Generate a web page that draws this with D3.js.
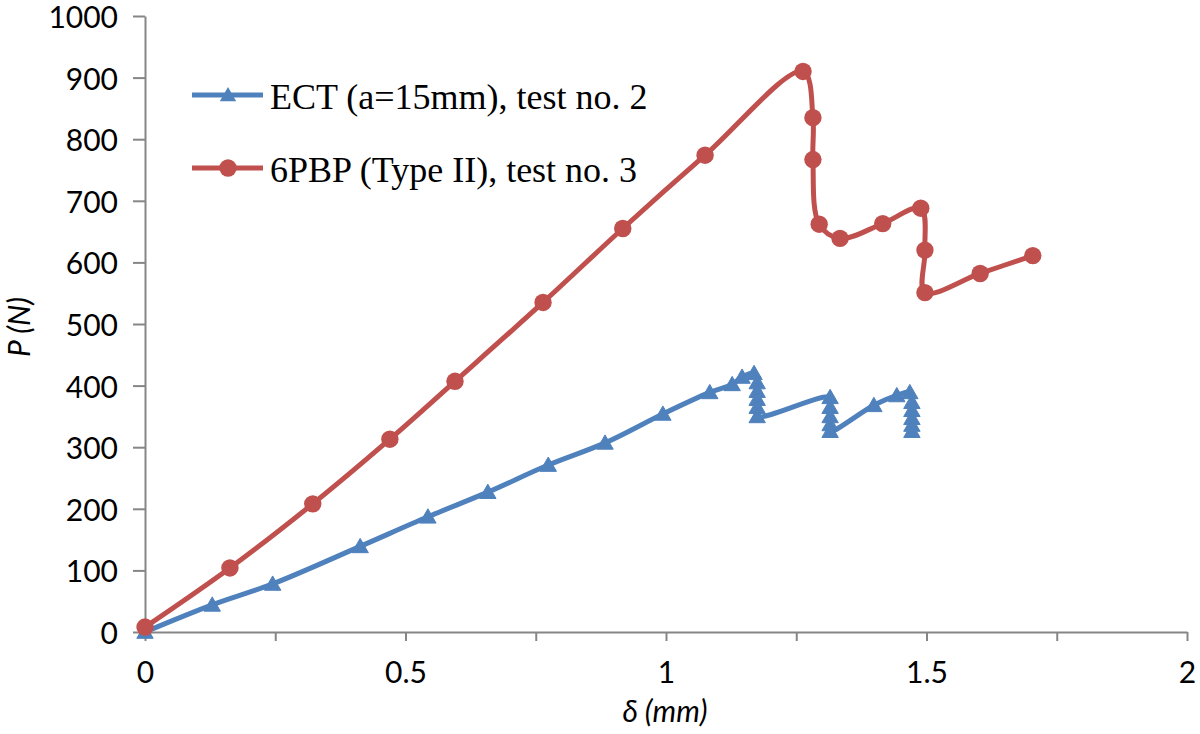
<!DOCTYPE html>
<html>
<head>
<meta charset="utf-8">
<script src="https://cdn.jsdelivr.net/npm/d3@7/dist/d3.min.js"></script>
<style>
  html, body { margin: 0; padding: 0; background: #fff; }
  svg { display: block; }
</style>
</head>
<body>
<svg id="chart" width="1200" height="734"></svg>
<script>
// ---- data ----
const ectDelta = [0, 0.129, 0.245, 0.413, 0.543, 0.658, 0.774, 0.883, 0.994, 1.084, 1.127, 1.146, 1.169,
  1.175, 1.175, 1.175, 1.175, 1.175, 1.315, 1.315, 1.315, 1.315, 1.315, 1.399, 1.443, 1.468,
  1.472, 1.472, 1.472, 1.472, 1.472];
const ectLoad = [0, 44, 78, 139, 187, 227, 271, 307, 354, 389, 402, 414, 420,
  405, 391, 378, 365, 350, 381, 365, 350, 337, 326, 368, 384, 389,
  373, 360, 347, 336, 326];

const pbpDelta = [0, 0.163, 0.322, 0.470, 0.595, 0.764, 0.917, 1.075, 1.263, 1.282, 1.282, 1.294,
  1.334, 1.416, 1.489, 1.497, 1.497, 1.603, 1.704];
const pbpLoad = [8, 104, 208, 313, 407, 535, 655, 774, 910, 835, 767, 662,
  639, 663, 688, 620, 551, 582, 611];

const xTicks = [0, 0.25, 0.5, 0.75, 1, 1.25, 1.5, 1.75, 2];
const xLabels = ["0", "", "0.5", "", "1", "", "1.5", "", "2"];
const yTicks = [0, 100, 200, 300, 400, 500, 600, 700, 800, 900, 1000];
const yLabels = ["0", "100", "200", "300", "400", "500", "600", "700", "800", "900", "1000"];

const seriesNames = ["ECT (a=15mm), test no. 2", "6PBP (Type II), test no. 3"];
const seriesColors = ["#4F81BD", "#C0504D"];

// ---- chart ----
const svg = d3.select("#chart");
const x = d3.scaleLinear().domain([0, 2]).range([145, 1187]);
const y = d3.scaleLinear().domain([0, 1000]).range([632, 16]);

const axisColor = "#868686";
const labelFont = "Lato, 'Open Sans', sans-serif";

// y axis
const yAxis = svg.append("g")
  .attr("transform", `translate(${x(0)},0)`)
  .call(d3.axisLeft(y).tickValues(yTicks).tickSize(12).tickSizeOuter(0)
    .tickFormat((d, i) => yLabels[i]));
yAxis.select(".domain").attr("stroke", axisColor).attr("stroke-width", 2);
yAxis.selectAll(".tick line").attr("stroke", axisColor).attr("stroke-width", 2);
yAxis.selectAll(".tick text")
  .attr("x", -27).attr("dy", "0.38em")
  .attr("fill", "#000")
  .style("font-family", labelFont).style("font-size", "30px");

// x axis
const xAxis = svg.append("g")
  .attr("transform", `translate(0,${y(0)})`)
  .call(d3.axisBottom(x).tickValues(xTicks).tickSize(9).tickSizeOuter(0)
    .tickFormat((d, i) => xLabels[i]));
xAxis.select(".domain").attr("stroke", axisColor).attr("stroke-width", 2);
xAxis.selectAll(".tick line").attr("stroke", axisColor).attr("stroke-width", 2);
xAxis.selectAll(".tick text")
  .attr("y", 51).attr("dy", 0)
  .attr("fill", "#000")
  .style("font-family", labelFont).style("font-size", "30px");

// axis titles
svg.append("text")
  .attr("x", 665).attr("y", 722)
  .attr("text-anchor", "middle")
  .style("font-family", labelFont).style("font-size", "30px").style("font-style", "italic")
  .text("δ (mm)");
svg.append("text")
  .attr("transform", `translate(30,${327}) rotate(-90)`)
  .attr("text-anchor", "middle")
  .style("font-family", labelFont).style("font-size", "30px").style("font-style", "italic")
  .text("P (N)");

// series
const line = d3.line().x(d => x(d[0])).y(d => y(d[1])).curve(d3.curveCatmullRom.alpha(0.5));
const triPath = "M0,-8L8.2,6.3L-8.2,6.3Z";

const ect = ectDelta.map((d, i) => [d, ectLoad[i]]);
const pbp = pbpDelta.map((d, i) => [d, pbpLoad[i]]);

const gE = svg.append("g");
gE.append("path").datum(ect).attr("d", line)
  .attr("fill", "none").attr("stroke", seriesColors[0]).attr("stroke-width", 5)
  .attr("stroke-linejoin", "round");
gE.selectAll("path.m").data(ect).enter().append("path").attr("class", "m")
  .attr("d", triPath)
  .attr("transform", d => `translate(${x(d[0])},${y(d[1])})`)
  .attr("fill", seriesColors[0]).attr("stroke", seriesColors[0]).attr("stroke-width", 1);

const gP = svg.append("g");
gP.append("path").datum(pbp).attr("d", line)
  .attr("fill", "none").attr("stroke", seriesColors[1]).attr("stroke-width", 5)
  .attr("stroke-linejoin", "round");
gP.selectAll("circle").data(pbp).enter().append("circle")
  .attr("cx", d => x(d[0])).attr("cy", d => y(d[1])).attr("r", 8.7)
  .attr("fill", seriesColors[1]);

// legend
const legY = [95, 168];
const leg = svg.append("g");
seriesNames.forEach((name, i) => {
  const g = leg.append("g").attr("transform", `translate(0,${legY[i]})`);
  g.append("line").attr("x1", 192).attr("x2", 263).attr("y1", 0).attr("y2", 0)
    .attr("stroke", seriesColors[i]).attr("stroke-width", 5);
  if (i === 0) {
    g.append("path").attr("d", triPath).attr("transform", "translate(228,0)")
      .attr("fill", seriesColors[i]);
  } else {
    g.append("circle").attr("cx", 228).attr("cy", 0).attr("r", 8.7).attr("fill", seriesColors[i]);
  }
  g.append("text").attr("x", 270).attr("y", 14)
    .style("font-family", "'Liberation Serif', 'Times New Roman', serif")
    .style("font-size", "36px").attr("fill", "#000")
    .text(name);
});
</script>
</body>
</html>
